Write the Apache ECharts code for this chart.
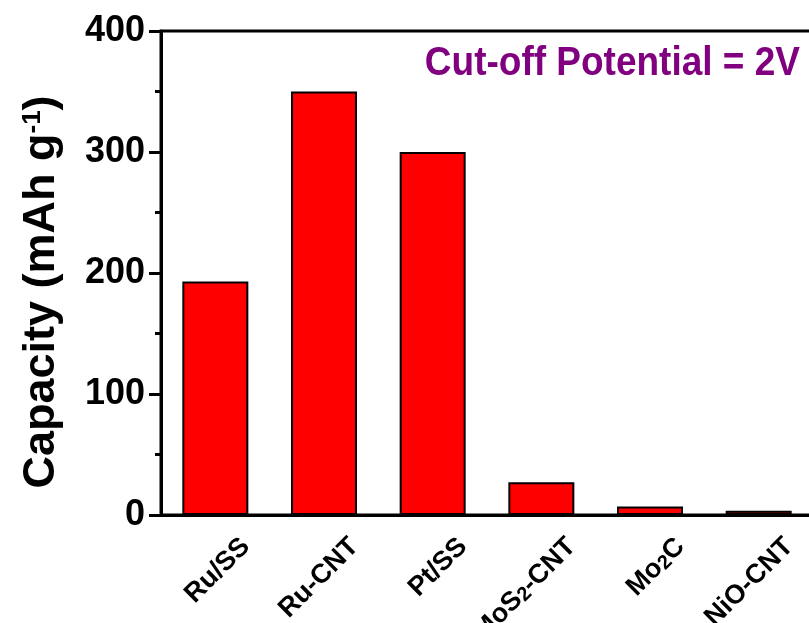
<!DOCTYPE html>
<html>
<head>
<meta charset="utf-8">
<script src="https://cdn.jsdelivr.net/npm/echarts@6/dist/echarts.min.js"></script>
<style>
  html, body { margin: 0; padding: 0; background: #fff; }
  #chart { width: 809px; height: 623px; }
</style>
</head>
<body>
<div id="chart"></div>
<script>
// Electrode materials (rich-text markup for subscripts)
const categories = ['Ru/SS', 'Ru-CNT', 'Pt/SS', 'MoS{s|2}-CNT', 'Mo{s|2}C', 'NiO-CNT'];
// Discharge capacity, mAh g-1
const capacity = [193, 350, 300, 27, 7, 3.5];
// Y-axis range and step
const yMin = 0, yMax = 400, yStep = 100;

const FONT = '"Liberation Sans", Arial, sans-serif';

const chart = echarts.init(document.getElementById('chart'), null, { renderer: 'canvas' });

chart.setOption({
  animation: false,
  backgroundColor: '#fff',
  grid: {
    left: 161, right: -4, top: 31, bottom: 108,
    outerBoundsMode: 'none',
    show: true, borderColor: '#000', borderWidth: 3
  },
  xAxis: {
    type: 'category',
    data: categories,
    boundaryGap: true,
    axisLine: { lineStyle: { color: '#000', width: 3 } },
    axisTick: { show: false },
    axisLabel: {
      interval: 0,
      rotate: 45,
      margin: -3,
      padding: [86, 0, 0, 0],
      color: '#000',
      fontFamily: FONT,
      fontWeight: 'bold',
      fontSize: 27,
      rich: {
        s: { fontFamily: FONT, fontWeight: 'bold', fontSize: 20, verticalAlign: 'bottom', lineHeight: 10, color: '#000' }
      }
    }
  },
  yAxis: {
    type: 'value',
    min: yMin, max: yMax, interval: yStep,
    axisLine: { show: true, lineStyle: { color: '#000', width: 3 } },
    axisTick: { show: true, inside: false, length: 12, lineStyle: { color: '#000', width: 3 } },
    minorTick: { show: true, splitNumber: 2, length: 6, lineStyle: { color: '#000', width: 3 } },
    splitLine: { show: false },
    axisLabel: { margin: 16, color: '#000', fontFamily: FONT, fontWeight: 'bold', fontSize: 36 }
  },
  series: [{
    type: 'bar',
    data: capacity,
    barWidth: 66,
    itemStyle: { color: '#ff0000', borderColor: '#000', borderWidth: 2 }
  }],
  graphic: [
    {
      type: 'text',
      x: 42, y: 292,
      rotation: Math.PI / 2,
      style: {
        text: 'Capacity (mAh g{sup|-1})',
        fill: '#000',
        font: 'bold 45px ' + FONT,
        align: 'center',
        verticalAlign: 'middle',
        rich: {
          sup: { font: 'bold 26px ' + FONT, fill: '#000', verticalAlign: 'top', lineHeight: 22 }
        }
      }
    },
    {
      type: 'text',
      x: 800, y: 64,
      scaleY: 1.08,
      style: {
        text: 'Cut-off Potential = 2V',
        fill: '#800080',
        font: 'bold 37px ' + FONT,
        align: 'right',
        verticalAlign: 'middle'
      }
    }
  ]
});
</script>
</body>
</html>
